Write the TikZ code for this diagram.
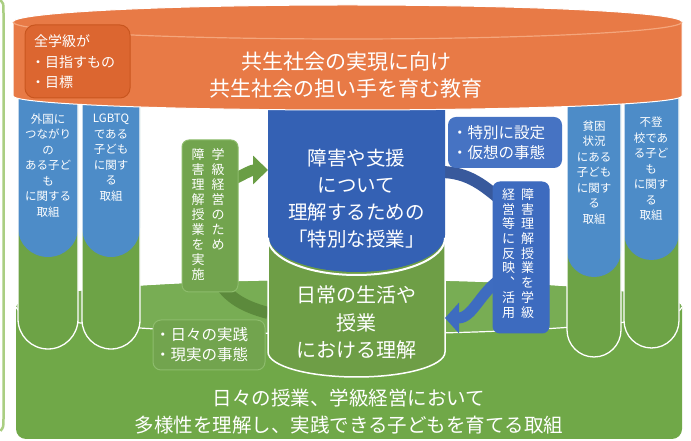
\documentclass[tikz,border=0pt]{standalone}
\usepackage{fontspec}
\setmainfont{Noto Sans CJK JP}
\usetikzlibrary{arrows.meta}
\definecolor{orangeC}{HTML}{E87A46}
\definecolor{orangeHi}{HTML}{F4A67C}
\definecolor{orangeBox}{HTML}{DC6630}
\definecolor{orangeBoxEdge}{HTML}{C9561F}
\definecolor{colBlue}{HTML}{4D8CC8}
\definecolor{cylBlue}{HTML}{3461B4}
\definecolor{boxBlue}{HTML}{4673C3}
\definecolor{vboxBlue}{HTML}{3D6BBF}
\definecolor{bandBlue}{HTML}{38599C}
\definecolor{arrowBlue}{HTML}{3E6CC0}
\definecolor{gBase}{HTML}{70A848}
\definecolor{gTop}{HTML}{78AD54}
\definecolor{gCol}{HTML}{6DA346}
\definecolor{gCyl}{HTML}{6E9E46}
\definecolor{gBox}{HTML}{72A44E}
\definecolor{gBoxEdge}{HTML}{8DBC6C}
\definecolor{gBand}{HTML}{5C8A3C}
\definecolor{gArrow}{HTML}{6A9E45}
\definecolor{leftLine}{HTML}{AACE82}
\begin{document}
\begin{tikzpicture}[x=1pt,y=1pt,
  txt/.style={text=white, inner sep=0pt, align=center},
  coltxt/.style={txt, font=\fontsize{11.5}{15.5}\selectfont},
  vtxt/.style={txt, font=\fontsize{13}{15}\selectfont},
  boxtxt/.style={txt, align=left, anchor=west, font=\fontsize{15.5}{20}\selectfont},
  tubeline/.style={white, line width=1.3},
  panel/.style={inner sep=0pt, line width=1}]
\useasboundingbox (0,0) rectangle (691,441);
\fill[white] (0,0) rectangle (691,441);
% left border line
\draw[leftLine, line width=2.5] (0.5,441) .. controls (3.5,438) .. (3.5,428) -- (3.5,22) .. controls (3.5,14) .. (0.5,10);
% green base
\fill[gBase] (16,134) arc[start angle=180,end angle=0,x radius=333,y radius=27] -- (682,12) arc[start angle=0,end angle=-90,radius=10] -- (26,2) arc[start angle=270,end angle=180,radius=10] -- cycle;
\fill[gTop] (349,134) ellipse[x radius=333,y radius=27];
\draw[white, line width=1.2] (16,134) arc[start angle=180,end angle=360,x radius=333,y radius=27];
% tubes
\fill[gCol] (18,351) -- (18,122) arc[start angle=180,end angle=360,radius=30] -- (78,351) -- cycle;
\fill[colBlue] (18,351) -- (18,213) arc[start angle=180,end angle=360,x radius=30,y radius=29] -- (78,351) -- cycle;
\draw[tubeline] (18,351) -- (18,122) arc[start angle=180,end angle=360,radius=30] -- (78,351);
\fill[gCol] (82,351) -- (82,121) arc[start angle=180,end angle=360,radius=29] -- (140,351) -- cycle;
\fill[colBlue] (82,351) -- (82,213) arc[start angle=180,end angle=360,x radius=29,y radius=29] -- (140,351) -- cycle;
\draw[tubeline] (82,351) -- (82,121) arc[start angle=180,end angle=360,radius=29] -- (140,351);
\fill[gCol] (567,351) -- (567,111) arc[start angle=180,end angle=360,radius=27] -- (621,351) -- cycle;
\fill[colBlue] (567,351) -- (567,190) arc[start angle=180,end angle=360,x radius=27,y radius=26] -- (621,351) -- cycle;
\draw[tubeline] (567,351) -- (567,111) arc[start angle=180,end angle=360,radius=27] -- (621,351);
\fill[gCol] (624,351) -- (624,120.5) arc[start angle=180,end angle=360,radius=27.5] -- (679,351) -- cycle;
\fill[colBlue] (624,351) -- (624,208) arc[start angle=180,end angle=360,x radius=27.5,y radius=27] -- (679,351) -- cycle;
\draw[tubeline] (624,351) -- (624,120.5) arc[start angle=180,end angle=360,radius=27.5] -- (679,351);
% tube texts
\node[coltxt] (c1) at (48,275.5) {外国に\\つながり\\の\\ある子ど\\も\\に関する\\取組};
\node[coltxt] (c2) at (111,283.3) {LGBTQ\\である\\子ども\\に関す\\る\\取組};
\node[coltxt] (c3) at (594,268.5) {貧困\\状況\\にある\\子ども\\に関す\\る\\取組};
\node[coltxt] (c4) at (651,272) {不登\\校であ\\る子ど\\も\\に関す\\る\\取組};
% bands behind the cylinder
\coordinate (gb0) at (268,128);
\coordinate (gb1) at (214,168);
\draw[gBand, line width=12] (gb0) to[out=165,in=-65] (gb1);
\coordinate (ba0) at (440,269);
\coordinate (ba1) at (507,236);
\draw[bandBlue, line width=12] (ba0) to[out=0,in=140] (ba1);
% central cylinder
\fill[gCyl] (268,250) -- (268,89) arc[start angle=180,end angle=360,x radius=88.5,y radius=25] -- (445,250) -- cycle;
\draw[white, line width=1.5] (268,250) -- (268,89) arc[start angle=180,end angle=360,x radius=88.5,y radius=25] -- (445,250);
\fill[cylBlue] (268,345) -- (268,206) arc[start angle=180,end angle=360,x radius=88.5,y radius=37] -- (445,345) -- cycle;
\draw[white, line width=2] (268,203) arc[start angle=180,end angle=360,x radius=88.5,y radius=37];
\node[txt, font=\fontsize{19.5}{27}\selectfont] (special) at (356.5,242) {障害や支援\\について\\理解するための\\「特別な授業」};
\node[txt, font=\fontsize{20}{27.5}\selectfont] (daily) at (356.5,118.5) {日常の生活や\\授業\\における理解};
% arrows with heads
\coordinate (ga0) at (226,258);
\coordinate (gatip) at (268,271);
\draw[gArrow, line width=11, -{Triangle[length=15pt,width=28pt]}] (ga0) to[out=25,in=180] (gatip);
\coordinate (bb0) at (505,165);
\coordinate (bbtip) at (445,123);
\draw[arrowBlue, line width=11, -{Triangle[length=14pt,width=30pt]}] (bb0) to[out=-150,in=0] (bbtip);
% boxes
\node[panel, draw=gBoxEdge, fill=gBox, rounded corners=7, minimum width=56, minimum height=152] (lbox) at (210,225) {};
\node[vtxt] (lboxR) at (218,241.5) {学\\級\\経\\営\\の\\た\\め};
\node[vtxt] (lboxL) at (198,226.5) {障\\害\\理\\解\\授\\業\\を\\実\\施};
\node[panel, draw=arrowBlue, fill=vboxBlue, rounded corners=7, minimum width=56, minimum height=151] (rbox) at (521,183.5) {};
\node[vtxt, font=\fontsize{13}{14.7}\selectfont] (rboxR) at (527.5,187.7) {障\\害\\理\\解\\授\\業\\を\\学\\級};
\node[vtxt, font=\fontsize{13}{14.7}\selectfont] (rboxL) at (508.5,187.7) {経\\営\\等\\に\\反\\映\\︑\\活\\用};
\node[panel, fill=boxBlue, rounded corners=8, minimum width=114, minimum height=51] (tbox) at (505,298.5) {};
\node[boxtxt] (tboxT) at (452,298) {・特別に設定\\・仮想の事態};
\node[panel, draw=gBoxEdge, fill=gBox, rounded corners=8, minimum width=112, minimum height=50] (gbox) at (209,96) {};
\node[boxtxt] (gboxT) at (155,96) {・日々の実践\\・現実の事態};
% orange cylinder
\filldraw[fill=orangeC, draw=white, line width=1] (13,419) arc[start angle=180,end angle=0,x radius=334.5,y radius=17] -- (682,345) arc[start angle=0,end angle=-180,x radius=334.5,y radius=14] -- cycle;
\draw[orangeHi, line width=1.2] (13,419) arc[start angle=180,end angle=360,x radius=334.5,y radius=17];
\node[txt, font=\fontsize{21}{27}\selectfont] (title) at (346,365.5) {共生社会の実現に向け\\共生社会の担い手を育む教育};
\node[panel, draw=orangeBoxEdge, fill=orangeBox, rounded corners=10, minimum width=105, minimum height=73] (obox) at (77.5,379.5) {};
\node[txt, align=left, anchor=west, font=\fontsize{14}{20.5}\selectfont] (oboxT) at (31,379) {\hspace*{3pt}全学級が\\・目指すもの\\・目標};
% bottom text
\node[txt, font=\fontsize{19.5}{27}\selectfont] (bottomT) at (349,29.5) {日々の授業、学級経営において\\多様性を理解し、実践できる子どもを育てる取組};
\end{tikzpicture}
\end{document}
